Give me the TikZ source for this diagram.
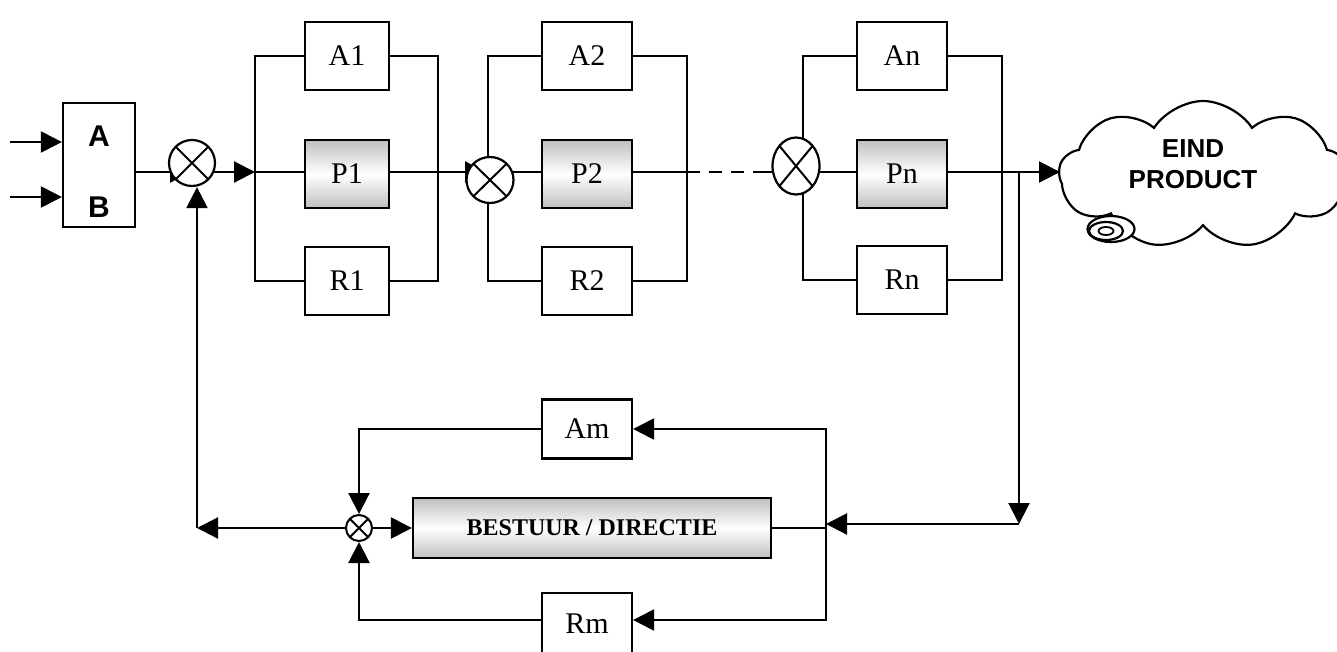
\documentclass[tikz,border=0pt]{standalone}
\usepackage{fontspec}
\setmainfont{Liberation Serif}
\newfontfamily\sansfam{Liberation Sans}
\usetikzlibrary{arrows.meta,shapes.geometric,shapes.symbols}
\pgfdeclarelayer{bg}
\pgfsetlayers{bg,main}
\begin{document}
\begin{tikzpicture}[x=1pt,y=-1pt,line width=2.2pt,
  arr/.style={-{Triangle[length=21pt,width=21pt]}},
  arr2/.style={{Triangle[length=21pt,width=21pt]}-{Triangle[length=21pt,width=21pt]}},
  blk/.style={draw,fill=white,inner sep=0pt,minimum width=84pt,minimum height=68pt,font=\fontsize{30}{32}\selectfont},
  wblk/.style={blk,minimum width=90pt},
  pblk/.style={blk,top color=gray!50,bottom color=gray!50,middle color=white},
  sumnode/.style={draw,ellipse,fill=white,inner sep=0pt,minimum width=46pt,minimum height=46pt,
    path picture={\draw[line width=2pt] (path picture bounding box.north west) -- (path picture bounding box.south east)
      (path picture bounding box.north east) -- (path picture bounding box.south west);}},
  ab/.style={font=\sansfam\bfseries\fontsize{30}{32}\selectfont}]
\useasboundingbox (0,0) rectangle (1337,651);

% input block
\node[draw,minimum width=72pt,minimum height=124pt,inner sep=0pt] (AB) at (99,165) {};
\node[ab] (tA) at (99,136) {A};
\node[ab] (tB) at (99,207) {B};
\coordinate (inA) at (10,142);
\coordinate (inB) at (10,197);

% stage 1
\node[blk] (A1) at (347,56) {A1};
\node[pblk] (P1) at (347,174) {P1};
\node[blk] (R1) at (347,281) {R1};
\coordinate (b1l) at (255,172);
\coordinate (b1r) at (438,172);
% stage 2
\node[wblk] (A2) at (587,56) {A2};
\node[pblk,minimum width=90pt] (P2) at (587,174) {P2};
\node[wblk] (R2) at (587,281) {R2};
\coordinate (b2l) at (488,172);
\coordinate (b2r) at (687,172);
% stage n
\node[wblk] (An) at (902,56) {An};
\node[pblk,minimum width=90pt] (Pn) at (902,174) {Pn};
\node[wblk] (Rn) at (902,280) {Rn};
\coordinate (bnl) at (803,172);
\coordinate (bnr) at (1002,172);
\coordinate (dash) at (755,172);

% summing points
\node[sumnode] (sum1) at (192,163) {};
\coordinate (j1) at (197,172);
\node[sumnode,minimum width=47pt] (sum2) at (490,180) {};
\node[sumnode,minimum width=47pt,minimum height=57pt] (sumn) at (796,166) {};

% cloud
\node[cloud,draw,fill=white,cloud puffs=9,cloud puff arc=115,aspect=1.9,minimum width=288pt,minimum height=148pt] (cloud) at (1203,175) {};
\node[font=\sansfam\bfseries\fontsize{26}{31}\selectfont,align=center] (ctext) at (1193,164) {EIND\\PRODUCT};
\node[draw,ellipse,fill=white,minimum width=47pt,minimum height=26pt,inner sep=0pt] (sp1) at (1111,229) {};
\node[draw,ellipse,minimum width=34pt,minimum height=18pt,inner sep=0pt] (sp2) at (1106,231) {};
\node[draw,ellipse,minimum width=15pt,minimum height=8pt,inner sep=0pt,line width=1.8pt] (sp3) at (1106,231) {};

% feedback part
\node[wblk,minimum height=59pt] (Am) at (587,429) {Am};
\node[wblk,minimum height=62pt] (Rm) at (587,624) {Rm};
\node[draw,inner sep=0pt,minimum width=358pt,minimum height=60pt,top color=gray!50,bottom color=gray!50,middle color=white,font=\bfseries\fontsize{24}{26}\selectfont] (B) at (592,528) {BESTUUR / DIRECTIE};
\node[sumnode,minimum width=26pt,minimum height=26pt,line width=2pt] (summ) at (359,528) {};
\coordinate (t) at (1019,172);
\coordinate (fbr) at (1019,524);
\coordinate (rbt) at (826,429);
\coordinate (rbb) at (826,620);
\coordinate (rbm) at (826,524);
\coordinate (fbl) at (197,528);

\begin{pgfonlayer}{bg}
\begin{scope}[line width=2.2pt]
  \draw[arr] (inA) -- (inA -| AB.west);
  \draw[arr] (inB) -- (inB -| AB.west);
  \draw[arr] (AB.east |- j1) -- ([xshift=-6pt]j1);
  \draw[arr] (j1) -- (b1l);
  % stage 1 buses
  \draw (A1.west) -| (b1l) |- (R1.west);
  \draw (A1.east) -| (b1r) |- (R1.east);
  \draw (b1l) -- (P1.west |- b1l);
  \draw (P1.east |- b1r) -- (b1r);
  \draw[arr] (b1r) -- ([xshift=-4pt]sum2.center |- b1r);
  % stage 2
  \draw (A2.west) -| (b2l) |- (R2.west);
  \draw (A2.east) -| (b2r) |- (R2.east);
  \draw (b2l) -- (P2.west |- b2l);
  \draw (P2.east |- b2r) -- (b2r);
  \draw[dash pattern=on 13pt off 9pt] (b2r) -- (dash);
  \draw (dash) -- (Pn.west |- dash);
  % stage n
  \draw (An.west) -| (bnl) |- (Rn.west);
  \draw (An.east) -| (bnr) |- (Rn.east);
  \draw[arr] (Pn.east |- bnr) -- (1060,172);
  % feedback
  \draw[arr] (t) -- (fbr);
  \draw[arr] (fbr) -- (rbm);
  \draw (B.east) -- (B.east -| rbm);
  \draw[arr2] (Am.east) -- (rbt) -- (rbb) -- (Rm.east |- rbb);
  \draw[arr] (Am.west) -| (summ.north);
  \draw[arr] (Rm.west |- rbb) -| (summ.south);
  \draw[arr] (summ.east) -- (B.west);
  \draw[arr] (summ.west) -- (fbl);
  \draw[arr] (fbl) -- (fbl |- sum1.south);
\end{scope}
\end{pgfonlayer}
\end{tikzpicture}
\end{document}
